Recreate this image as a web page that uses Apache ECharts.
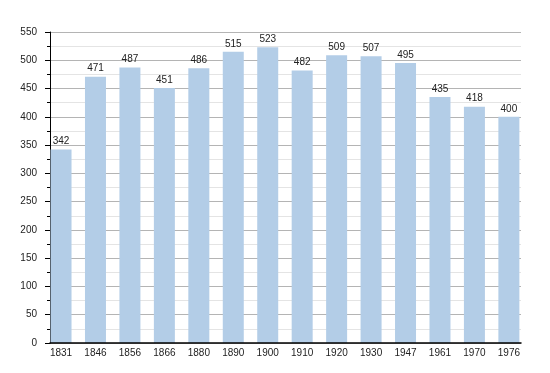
<!DOCTYPE html>
<html>
<head>
<meta charset="utf-8">
<script src="https://cdn.jsdelivr.net/npm/echarts@6/dist/echarts.min.js"></script>
<style>html,body{margin:0;padding:0;background:#fff}#c{width:550px;height:373px}</style>
</head>
<body>
<div id="c"></div>
<script>
const years = ['1831','1846','1856','1866','1880','1890','1900','1910','1920','1930','1947','1961','1970','1976'];
const population = [342, 471, 487, 451, 486, 515, 523, 482, 509, 507, 495, 435, 418, 400];
const yMin = 0, yMax = 550, yStep = 50;

const chart = echarts.init(document.getElementById('c'), null, {renderer: 'canvas'});
const font = 'Liberation Sans, Arial, sans-serif';
chart.setOption({
  animation: false,
  backgroundColor: '#fff',
  grid: [
    {left: 50, right: 29, top: 32, bottom: 30},
    {left: 43.8, right: 23.9, top: 32, bottom: 30}
  ],
  xAxis: [
    {type: 'value', gridIndex: 0, min: 0, max: 1, z: 10,
     axisLine: {show: true, onZero: false, lineStyle: {color: '#000', width: 1.5}},
     axisTick: {show: false}, axisLabel: {show: false}, splitLine: {show: false}},
    {type: 'category', gridIndex: 1, data: years, z: 1,
     axisLine: {show: false}, axisTick: {show: false},
     axisLabel: {color: '#222', fontFamily: font, fontSize: 10, margin: 5}}
  ],
  yAxis: [
    {type: 'value', gridIndex: 0, min: yMin, max: yMax, interval: yStep, z: 0,
     axisLine: {show: true, lineStyle: {color: '#000', width: 1}},
     axisTick: {show: true, length: 5, lineStyle: {color: '#000'}},
     minorTick: {show: true, splitNumber: 2, length: 3, lineStyle: {color: '#000'}},
     axisLabel: {color: '#222', fontFamily: font, fontSize: 10, margin: 13},
     splitLine: {show: true, lineStyle: {color: '#b4b4b4', width: 1}},
     minorSplitLine: {show: true, lineStyle: {color: '#e4e4e4', width: 1}}},
    {type: 'value', gridIndex: 1, min: yMin, max: yMax, show: false}
  ],
  series: [{
    type: 'bar', xAxisIndex: 1, yAxisIndex: 1, z: 5,
    data: population, barWidth: 21,
    itemStyle: {color: '#b3cde7'},
    label: {show: true, position: 'top', distance: 3, color: '#222', fontFamily: font, fontSize: 10}
  }]
});
</script>
</body>
</html>
